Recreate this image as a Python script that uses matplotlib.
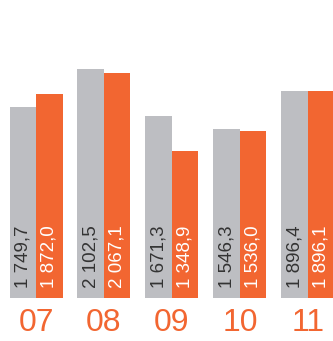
import matplotlib.pyplot as plt
import numpy as np

months = ['07', '08', '09', '10', '11']
prev_year = [1749.7, 2102.5, 1671.3, 1546.3, 1896.4]
this_year = [1872.0, 2067.1, 1348.9, 1536.0, 1896.1]
prev_labels = ['1 749,7', '2 102,5', '1 671,3', '1 546,3', '1 896,4']
this_labels = ['1 872,0', '2 067,1', '1 348,9', '1 536,0', '1 896,1']

gray = '#bdbec2'
orange = '#f26631'

fig = plt.figure(figsize=(3.33, 3.41), dpi=100)
ax = fig.add_axes([0, 0, 1, 1])
ax.axis('off')

x = np.arange(len(months))
w = 0.39
ax.bar(x - w / 2, prev_year, width=w, color=gray)
ax.bar(x + w / 2, this_year, width=w, color=orange)

# valores dentro das barras, na vertical
for i in range(len(months)):
    ax.text(x[i] - w / 2, 90, prev_labels[i], rotation=90, ha='center', va='bottom',
            fontsize=13.5, color='#333333', family='Liberation Sans')
    ax.text(x[i] + w / 2, 90, this_labels[i], rotation=90, ha='center', va='bottom',
            fontsize=13.5, color='white', family='Liberation Sans')
    ax.text(x[i], -230, months[i], ha='center', va='center',
            fontsize=23, color=orange, family='Liberation Sans')

ax.set_xlim(-0.53, 4.37)
ax.set_ylim(-394, 2734)

fig.savefig('out.png', dpi=100)
